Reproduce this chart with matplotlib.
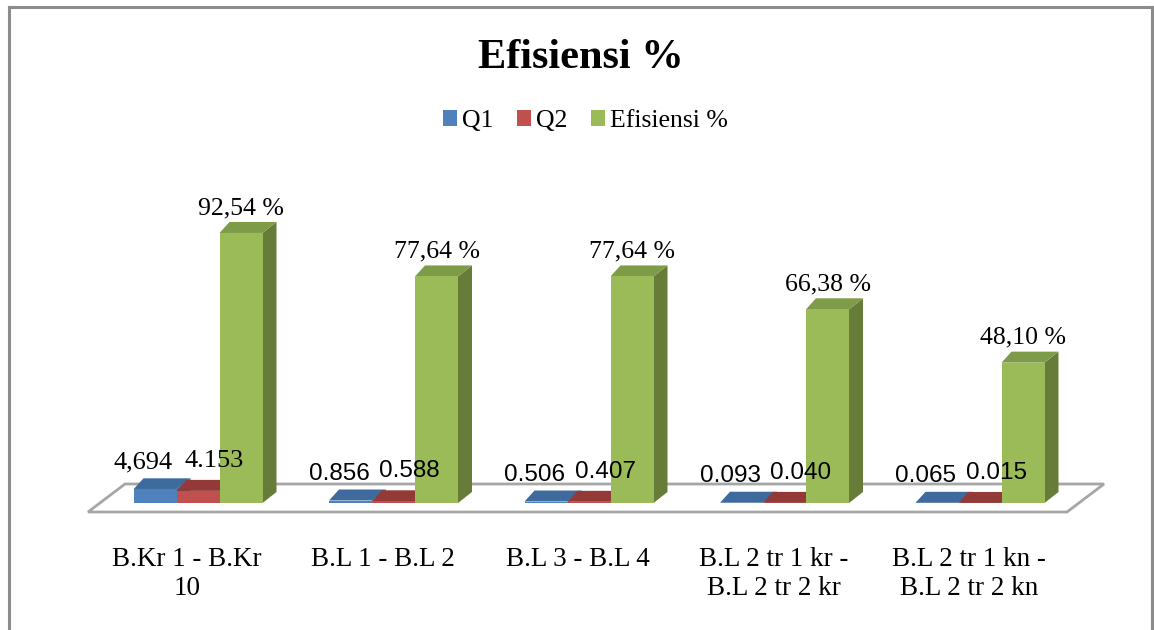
import matplotlib
matplotlib.use("Agg")
import matplotlib.pyplot as plt
from matplotlib.patches import Polygon

# ---- data -------------------------------------------------------------
categories = ["B.Kr 1 - B.Kr\n10", "B.L 1 - B.L 2", "B.L 3 - B.L 4",
              "B.L 2 tr 1 kr -\nB.L 2 tr 2 kr", "B.L 2 tr 1 kn -\nB.L 2 tr 2 kn"]
series_names = ["Q1", "Q2", "Efisiensi %"]
q1 = [4.694, 0.856, 0.506, 0.093, 0.065]
q2 = [4.153, 0.588, 0.407, 0.040, 0.015]
efisiensi = [92.54, 77.64, 77.64, 66.38, 48.10]
q1_labels = ["4,694", "0.856", "0.506", "0.093", "0.065"]
q2_labels = ["4.153", "0.588", "0.407", "0.040", "0.015"]
eff_labels = ["92,54 %", "77,64 %", "77,64 %", "66,38 %", "48,10 %"]

# ---- styling ----------------------------------------------------------
SERIF = "Liberation Serif"
SANS = "Liberation Sans"
front_colors = ["#4F81BD", "#C0504D", "#9BBB59"]
top_colors = ["#3E6A9E", "#933A38", "#7E9B47"]
side_colors = ["#365C8A", "#7F3230", "#677C38"]

W_PX, H_PX = 1154, 630
fig = plt.figure(figsize=(W_PX / 100, H_PX / 100), dpi=100)
ax = fig.add_axes([0, 0, 1, 1])
ax.set_axis_off()

# axis scaling: one category step and one value unit in pixels
STEP_PX = 195.5
UNIT_PX = 2.918
X0_PX = 198.0     # pixel x of first category centre
BASE_PX = 503.0   # pixel y (from top) of the value 0 plane
ax.set_xlim(-X0_PX / STEP_PX, (W_PX - X0_PX) / STEP_PX)
ax.set_ylim((BASE_PX - H_PX) / UNIT_PX, BASE_PX / UNIT_PX)

def px_x(p):
    return p / STEP_PX

def px_y(p):
    return p / UNIT_PX

BAR_W = px_x(43)
DXL, DXR, DY = px_x(10), px_x(14), px_y(11)

# ---- floor ------------------------------------------------------------
floor = Polygon([(px_x(88 - X0_PX), px_y(BASE_PX - 512)),
                 (px_x(1067 - X0_PX), px_y(BASE_PX - 512)),
                 (px_x(1104 - X0_PX), px_y(BASE_PX - 484)),
                 (px_x(125 - X0_PX), px_y(BASE_PX - 484))],
                closed=True, facecolor="white", edgecolor="#A6A6A6",
                linewidth=2, zorder=1)
ax.add_patch(floor)

# ---- 3D-style columns -------------------------------------------------
all_series = [q1, q2, efisiensi]
idx = list(range(len(categories)))
offsets = [-1.5 * BAR_W, -0.5 * BAR_W, 0.5 * BAR_W]
handles = []
for s, vals in enumerate(all_series):
    lefts = [i + offsets[s] for i in idx]
    z = 2 + s
    for xl, v in zip(lefts, vals):
        xr = xl + BAR_W
        top = Polygon([(xl, v), (xr, v), (xr + DXR, v + DY), (xl + DXL, v + DY)],
                      closed=True, facecolor=top_colors[s], edgecolor="none",
                      zorder=z)
        side = Polygon([(xr, 0), (xr, v), (xr + DXR, v + DY), (xr + DXR, DY)],
                       closed=True, facecolor=side_colors[s], edgecolor="none",
                       zorder=z)
        ax.add_patch(side)
        ax.add_patch(top)
    bars = ax.bar(lefts, vals, width=BAR_W, align="edge",
                  color=front_colors[s], zorder=z + 0.5, label=series_names[s])
    handles.append(bars)

# ---- value labels -----------------------------------------------------
for i in idx:
    c1 = i + offsets[0] + BAR_W / 2
    c2 = i + offsets[1] + BAR_W / 2
    c3 = i + offsets[2] + BAR_W / 2
    fam = SERIF if i == 0 else SANS
    fs = 19 if i == 0 else 17.5
    ax.annotate(q1_labels[i], xy=(c1, q1[i] + DY), xytext=(-11.5, 10),
                textcoords="offset pixels", ha="center", va="baseline",
                fontsize=fs, family=fam, color="black", zorder=10)
    ax.annotate(q2_labels[i], xy=(c2, q2[i] + DY), xytext=(16, 13),
                textcoords="offset pixels", ha="center", va="baseline",
                fontsize=fs, family=fam, color="black", zorder=10)
    ax.annotate(eff_labels[i], xy=(c3, efisiensi[i] + DY), xytext=(0, 8),
                textcoords="offset pixels", ha="center", va="baseline",
                fontsize=18.5, family=SERIF, color="black", zorder=10)

# ---- category labels --------------------------------------------------
for i, lab in enumerate(categories):
    ax.text(i - px_x(11), px_y(BASE_PX - 547), lab, ha="center", va="top",
            fontsize=19.5, family=SERIF, linespacing=1.2, color="black")

# ---- title and legend -------------------------------------------------
fig.text(581 / W_PX, 1 - 68 / H_PX, "Efisiensi %", ha="center", va="baseline",
         fontsize=30.5, fontweight="bold", family=SERIF)

fig.legend(handles, series_names, loc="center",
           bbox_to_anchor=(585.5 / W_PX, 1 - 121 / H_PX), ncol=3,
           frameon=False, prop={"family": SERIF, "size": 18.5},
           handlelength=0.55, handleheight=0.55, handletextpad=0.2,
           columnspacing=0.9, borderpad=0, borderaxespad=0)

# ---- chart frame (open at the bottom) ---------------------------------
frame_kw = dict(color="#8C8C8C", linewidth=2.2, transform=fig.transFigure)
fig.add_artist(plt.Line2D([9 / W_PX, 9 / W_PX], [0, 1 - 7 / H_PX], **frame_kw))
fig.add_artist(plt.Line2D([9 / W_PX, 1152 / W_PX], [1 - 7 / H_PX, 1 - 7 / H_PX], **frame_kw))
fig.add_artist(plt.Line2D([1152 / W_PX, 1152 / W_PX], [1 - 7 / H_PX, 0], **frame_kw))

fig.savefig("out.png", dpi=100, facecolor="white")
